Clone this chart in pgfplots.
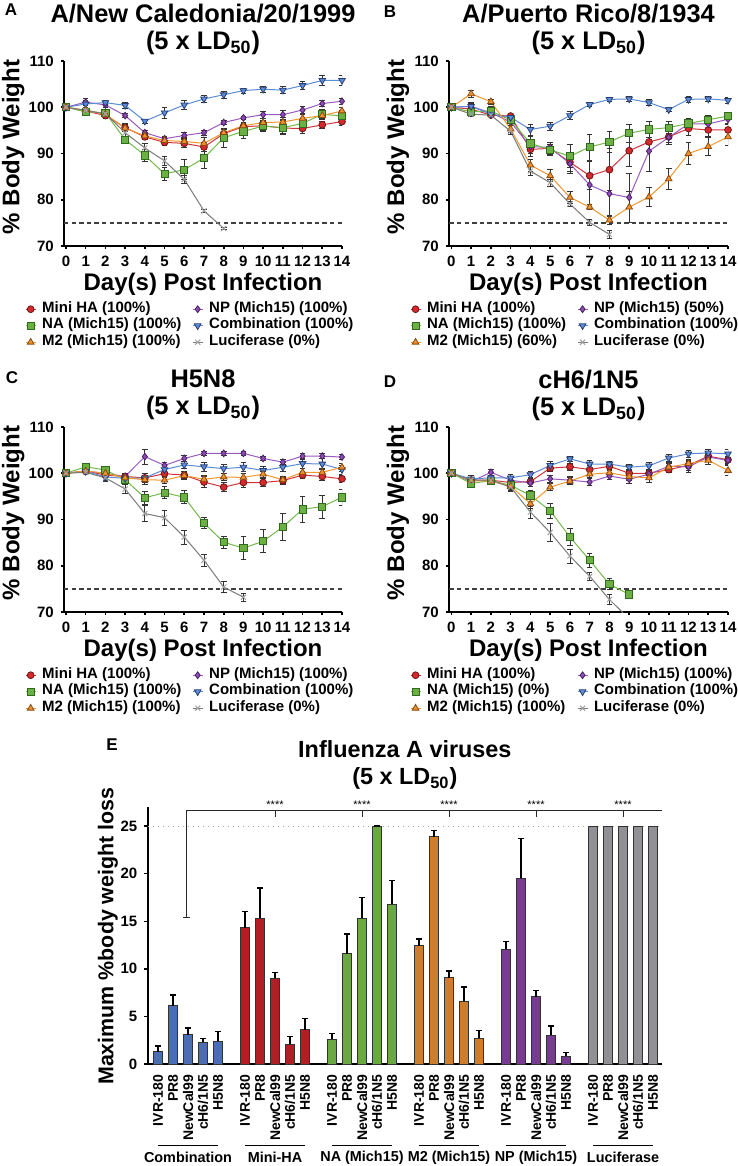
\documentclass[border=0pt]{standalone}
\usepackage{fontspec}
\setmainfont{Liberation Sans}
\usepackage{pgfplots}
\usepackage{pgfplotstable}
\pgfplotsset{compat=1.18}

% line colours (fill / edge / line)
\definecolor{haF}{HTML}{D42A2E}\definecolor{haD}{HTML}{6E1414}\definecolor{haL}{HTML}{D0343A}
\definecolor{naF}{HTML}{6CB043}\definecolor{naD}{HTML}{2F6B1C}\definecolor{naL}{HTML}{74B84A}
\definecolor{m2F}{HTML}{F0932F}\definecolor{m2D}{HTML}{8B4A0E}\definecolor{m2L}{HTML}{F0962E}
\definecolor{npF}{HTML}{8E4DB3}\definecolor{npD}{HTML}{4A1F66}\definecolor{npL}{HTML}{9A5AC0}
\definecolor{coF}{HTML}{5E8DD6}\definecolor{coD}{HTML}{253F78}\definecolor{coL}{HTML}{5B8BD4}
\definecolor{luL}{HTML}{7A7A7A}\definecolor{luM}{HTML}{A0A0A0}
% bar colours
\definecolor{bCo}{HTML}{4A6DB3}\definecolor{bHa}{HTML}{B31E24}\definecolor{bNa}{HTML}{69A842}
\definecolor{bM2}{HTML}{CE7E2B}\definecolor{bNp}{HTML}{773B8F}\definecolor{bLu}{HTML}{909095}

\pgfplotsset{
  eb/.style={error bars/y dir=both, error bars/y explicit,
    error bars/error bar style={black!80, line width=0.4pt},
    error bars/error mark options={rotate=90, mark size=1.4pt, line width=0.4pt, black!80}},
  haS/.style={color=haL, line width=0.5pt, mark=*, mark size=1.7pt,
    mark options={fill=haF, draw=haD, line width=0.4pt}, eb},
  npS/.style={color=npL, line width=0.5pt, mark=diamond*, mark size=1.7pt,
    mark options={fill=npF, draw=npD, line width=0.4pt}, eb},
  naS/.style={color=naL, line width=0.5pt, mark=square*, mark size=1.8pt,
    mark options={fill=naF, draw=naD, line width=0.4pt}, eb},
  coS/.style={color=coL, line width=0.5pt, mark=triangle*, mark size=1.9pt,
    mark options={rotate=180, fill=coF, draw=coD, line width=0.4pt}, eb},
  m2S/.style={color=m2L, line width=0.5pt, mark=triangle*, mark size=1.9pt,
    mark options={fill=m2F, draw=m2D, line width=0.4pt}, eb},
  luS/.style={color=luL, line width=0.5pt, mark=x, mark size=1.8pt,
    mark options={draw=luM, line width=0.5pt}, eb},
  lineax/.style={
    scale only axis, width=139pt, height=92.5pt, anchor=south west,
    xmin=-0.1, xmax=14, ymin=70, ymax=110,
    xtick={0,...,14}, ytick={70,80,...,110},
    axis lines*=left, axis line style={line width=1.3pt},
    tick align=outside, major tick length=1.6pt, tick style={line width=0.8pt, black},
    tick label style={font=\bfseries\fontsize{7.5}{8}\selectfont},
    /pgf/number format/assume math mode=true,
    xlabel={Day(s) Post Infection}, ylabel={\% Body Weight},
    label style={font=\bfseries\fontsize{12}{13}\selectfont},
    xlabel style={at={(axis description cs:0.5,-0.205)}, anchor=center},
    ylabel style={at={(axis description cs:-0.183,0.535)}, anchor=center},
    title style={at={(axis description cs:0.5,1.108)}, anchor=center, align=center,
      font=\bfseries\fontsize{12.7}{13.5}\selectfont},
    legend columns=2, legend cell align=left,
    legend style={at={(axis description cs:-0.141,-0.295)}, anchor=north west,
      draw=none, fill=none, inner sep=0pt,
      font=\bfseries\fontsize{7.5}{8.25}\selectfont,
      nodes={inner sep=0pt, text height=5.6pt, text depth=2.65pt},
      /tikz/every odd column/.append style={column sep=3pt},
      /tikz/every even column/.append style={column sep=0pt}},
    legend image code/.code={\draw[mark repeat=2,mark phase=2,##1]
      plot coordinates {(0pt,0pt)(2.5pt,0pt)(5pt,0pt)};},
  },
}

\newcommand{\sixplots}[1]{%
  \addplot[forget plot, black!75, line width=0.7pt, dash pattern=on 2.2pt off 1.6pt]
    coordinates {(-0.1,75) (14,75)};
  \addplot[haS] table[x=d,y=ha,y error=haE]{#1};
  \addplot[npS] table[x=d,y=np,y error=npE]{#1};
  \addplot[naS] table[x=d,y=na,y error=naE]{#1};
  \addplot[coS] table[x=d,y=co,y error=coE]{#1};
  \addplot[m2S] table[x=d,y=m2,y error=m2E]{#1};
  \addplot[luS] table[x=d,y=lu,y error=luE]{#1};
}
\newcommand{\lb}[1]{\makebox[75pt][l]{#1}}

\pgfplotstableread{
d ha haE np npE na naE co coE m2 m2E lu luE
0 100 0 100 0 100 0 100 0 100 0 100 0
1 99.2 0.6 101.1 0.8 99.0 0.6 100.7 0.8 99.4 0.6 99.3 0.5
2 98.2 0.6 100.5 0.6 98.8 0.7 101.0 0.5 98.5 0.5 98.6 0.6
3 95.6 0.9 98.2 0.5 93.0 0.7 100.4 0.6 95.5 0.8 94.5 0.7
4 93.6 0.6 94.5 0.5 89.6 1.3 97.0 0.4 93.8 0.6 91.2 1.0
5 92.4 0.7 93.2 0.5 85.6 1.5 98.8 1.2 92.8 0.6 88.4 1.0
6 92.2 0.8 93.9 0.7 86.5 2.2 100.5 1.0 92.6 0.8 84.4 0.8
7 91.4 1.0 94.5 0.5 89.0 2.2 101.8 0.7 92.2 1.2 77.6 0.3
8 94.3 1.0 96.7 0.4 93.4 2.0 102.7 0.7 94.5 0.8 73.8 0.3
9 95.8 0.8 97.7 0.4 94.8 1.5 103.6 0.5 96.0 0.8 nan nan
10 96.0 1.0 98.4 0.8 95.9 1.2 103.9 0.6 96.7 0.8 nan nan
11 95.5 1.2 98.4 1.0 95.6 1.5 103.7 0.8 96.8 1.0 nan nan
12 95.4 1.0 99.4 0.8 96.5 1.0 104.7 0.8 97.6 0.8 nan nan
13 96.2 0.7 100.8 0.6 98.5 1.0 105.8 1.0 98.2 0.8 nan nan
14 96.9 0.8 101.3 0.6 98.1 1.2 105.8 1.0 99.2 0.8 nan nan
}\tabA

\pgfplotstableread{
d ha haE np npE na naE co coE m2 m2E lu luE
0 100 0 100 0 100 0 100 0 100 0 100 0
1 99.6 0.8 100.2 0.6 99.0 0.8 100.2 0.8 102.9 0.8 98.5 0.5
2 98.3 0.5 98.8 0.6 99.2 1.0 98.5 0.5 101.2 0.6 98.3 0.4
3 98.1 0.5 96.8 0.8 97.2 0.7 97.8 0.6 95.3 0.8 94.8 0.6
4 90.9 1.5 91.5 1.5 92.2 1.5 95.2 1.2 87.5 1.3 86.2 1.0
5 91.1 1.3 91.3 1.2 90.8 1.2 95.9 0.8 85.2 1.3 83.7 0.8
6 88.1 2.0 87.8 2.0 89.4 2.5 98.2 0.8 80.5 1.2 79.1 0.6
7 85.2 3.0 83.2 5.0 91.4 2.8 100.6 0.5 78.4 0.5 75.1 0.6
8 86.5 4.5 81.3 5.0 92.5 2.3 101.7 0.5 75.6 1.0 72.5 0.8
9 90.6 3.3 80.5 5.3 94.4 2.0 101.8 0.5 78.4 3.3 nan nan
10 92.5 2.0 90.5 4.3 95.2 1.8 101.0 0.7 80.6 2.0 nan nan
11 93.6 1.3 93.5 1.5 95.6 1.3 99.5 0.5 84.5 2.3 nan nan
12 95.4 1.5 96.4 1.0 96.5 1.0 101.7 0.6 90.0 2.3 nan nan
13 95.1 1.5 96.4 1.2 97.3 1.0 101.8 0.6 91.5 2.0 nan nan
14 95.1 1.5 97.4 1.0 98.1 0.8 101.5 0.6 93.6 1.8 nan nan
}\tabB

\pgfplotstableread{
d ha haE np npE na naE co coE m2 m2E lu luE
0 100 0 100 0 100 0 100 0 100 0 100 0
1 100.5 0.6 100.4 0.5 101.4 0.6 100.4 0.6 100.5 0.6 100.2 0.5
2 99.6 0.6 100.0 0.6 100.7 0.5 99.2 0.8 100.0 0.6 99.0 0.8
3 99.3 0.6 99.3 0.6 98.6 0.8 98.9 0.6 99.0 0.6 96.6 1.0
4 99.0 1.0 103.6 1.6 94.7 1.4 99.0 1.0 98.6 1.0 91.3 1.8
5 99.9 0.8 101.7 0.6 95.8 1.3 100.8 1.0 98.5 0.8 90.4 1.6
6 99.6 0.8 103.2 0.7 94.8 1.4 101.8 0.8 99.5 0.8 86.2 1.5
7 98.1 1.2 104.3 0.5 89.2 1.2 101.4 1.0 98.7 0.8 81.2 1.3
8 97.0 1.0 104.3 0.4 85.1 1.3 101.0 1.0 99.2 0.8 75.4 1.2
9 98.0 1.0 104.3 0.4 83.8 2.5 101.3 1.0 99.1 0.8 73.2 0.8
10 98.0 0.8 103.2 0.5 85.3 2.5 100.6 0.8 99.8 0.6 nan nan
11 98.4 0.8 102.4 0.5 88.4 3.0 101.3 1.0 98.6 0.8 nan nan
12 99.6 0.8 103.7 0.5 92.2 2.8 102.1 1.0 100.2 0.8 nan nan
13 99.3 0.8 103.7 0.5 92.8 2.5 102.0 1.2 100.2 0.8 nan nan
14 98.8 0.7 103.5 0.5 94.8 1.8 100.8 1.0 101.3 0.8 nan nan
}\tabC

\pgfplotstableread{
d ha haE np npE na naE co coE m2 m2E lu luE
0 100 0 100 0 100 0 100 0 100 0 100 0
1 98.5 0.6 98.2 0.6 97.8 0.6 98.8 0.8 98.4 0.6 98.5 0.6
2 98.5 0.6 100.2 0.6 98.4 0.6 99.0 0.6 98.3 0.6 98.5 0.5
3 98.0 1.0 98.5 0.8 97.4 0.8 99.0 0.8 97.2 0.8 97.0 1.0
4 98.2 1.0 97.9 0.8 95.2 1.2 99.7 0.8 93.4 1.0 91.6 1.3
5 101.1 0.8 98.8 0.8 91.9 1.6 101.7 0.8 97.0 0.8 87.2 2.0
6 101.4 0.8 98.5 0.8 86.2 1.8 103.1 0.6 98.3 0.8 82.1 1.5
7 100.8 1.0 98.1 0.8 81.2 1.5 102.0 0.8 99.8 0.8 77.7 0.8
8 101.5 0.8 99.4 0.8 76.0 1.2 102.0 0.6 100.1 0.8 72.7 1.0
9 100.0 0.8 98.7 0.8 73.8 0.7 101.3 0.6 99.3 0.8 68.5 0
10 100.0 0.8 99.8 0.8 nan nan 101.6 0.8 99.0 1.0 nan nan
11 100.8 0.6 101.5 0.8 nan nan 103.3 0.8 101.3 0.8 nan nan
12 101.7 1.0 101.4 1.2 nan nan 104.2 0.8 102.1 1.0 nan nan
13 103.7 0.8 103.5 0.8 nan nan 104.4 0.8 102.8 0.8 nan nan
14 102.9 0.8 102.8 0.8 nan nan 104.2 1.0 100.6 1.0 nan nan
}\tabD

\begin{document}
\begin{tikzpicture}
\path[use as bounding box] (0,0) rectangle (369pt,-583pt);

\begin{axis}[lineax, at={(32pt,-123pt)},
  title={A/New Caledonia/20/1999\\(5 x LD\textsubscript{50})}]
\sixplots{\tabA}
\legend{\lb{Mini HA (100\%)}, NP (Mich15) (100\%), \lb{NA (Mich15) (100\%)}, Combination (100\%), \lb{M2 (Mich15) (100\%)}, Luciferase (0\%)}
\end{axis}

\begin{axis}[lineax, at={(224.5pt,-123pt)}, xmin=-0.12, width=139.5pt,
  title={A/Puerto Rico/8/1934\\(5 x LD\textsubscript{50})}]
\sixplots{\tabB}
\legend{\lb{Mini HA (100\%)}, NP (Mich15) (50\%), \lb{NA (Mich15) (100\%)}, Combination (100\%), \lb{M2 (Mich15) (60\%)}, Luciferase (0\%)}
\end{axis}

\begin{axis}[lineax, at={(32pt,-306pt)},
  title={H5N8\\(5 x LD\textsubscript{50})}]
\sixplots{\tabC}
\legend{\lb{Mini HA (100\%)}, NP (Mich15) (100\%), \lb{NA (Mich15) (100\%)}, Combination (100\%), \lb{M2 (Mich15) (100\%)}, Luciferase (0\%)}
\end{axis}

\begin{axis}[lineax, at={(224.5pt,-306pt)}, xmin=-0.12, width=139.5pt,
  title={cH6/1N5\\(5 x LD\textsubscript{50})}]
\sixplots{\tabD}
\legend{\lb{Mini HA (100\%)}, NP (Mich15) (100\%), \lb{NA (Mich15) (0\%)}, Combination (100\%), \lb{M2 (Mich15) (100\%)}, Luciferase (0\%)}
\end{axis}

% panel E
\begin{axis}[at={(74pt,-532pt)}, anchor=south west,
  scale only axis, width=256.85pt, height=128.65pt,
  xmin=-0.667, xmax=33.58, ymin=0, ymax=27.03,
  axis lines*=left, axis line style={line width=0.85pt},
  ytick={0,5,...,25}, tick align=outside, major tick length=1.8pt,
  tick style={line width=0.7pt, black},
  x tick style={draw=none},
  xtick={0,1,2,3,4,5.8,6.8,7.8,8.8,9.8,11.6,12.6,13.6,14.6,15.6,17.4,18.4,19.4,20.4,21.4,23.2,24.2,25.2,26.2,27.2,29,30,31,32,33},
  xticklabels={IVR-180,PR8,NewCal99,cH6/1N5,H5N8,IVR-180,PR8,NewCal99,cH6/1N5,H5N8,IVR-180,PR8,NewCal99,cH6/1N5,H5N8,IVR-180,PR8,NewCal99,cH6/1N5,H5N8,IVR-180,PR8,NewCal99,cH6/1N5,H5N8,IVR-180,PR8,NewCal99,cH6/1N5,H5N8},
  xticklabel style={rotate=90, anchor=east, font=\bfseries\fontsize{7}{7}\selectfont},
  yticklabel style={font=\bfseries\fontsize{7.5}{8}\selectfont},
  /pgf/number format/assume math mode=true,
  ylabel={Maximum \%body weight loss},
  ylabel style={at={(axis description cs:-0.078,0.497)}, anchor=center,
    font=\bfseries\fontsize{10.7}{11}\selectfont},
  title={Influenza A viruses\\(5 x LD\textsubscript{50})},
  title style={at={(axis description cs:0.5,1.115)}, anchor=center, align=center,
    font=\bfseries\fontsize{11.7}{13.5}\selectfont},
  clip=false,
  error bars/y dir=plus, error bars/y explicit,
  error bars/error bar style={black, line width=0.7pt},
  error bars/error mark options={rotate=90, mark size=1.3pt, line width=0.7pt, black},
  barst/.style={ybar, bar width=0.62, bar shift=0pt, draw=black!80, line width=0.5pt},
]
\addplot[forget plot, black!35, dotted, line width=0.5pt] coordinates {(-0.667,25) (33.58,25)};
\addplot[barst, fill=bCo] coordinates {(0,1.3)+-(0,0.6) (1,6.1)+-(0,1.15) (2,3.1)+-(0,0.7) (3,2.3)+-(0,0.4) (4,2.4)+-(0,1.0)};
\addplot[barst, fill=bHa] coordinates {(5.8,14.3)+-(0,1.75) (6.8,15.3)+-(0,3.2) (7.8,9.0)+-(0,0.63) (8.8,2.1)+-(0,0.77) (9.8,3.6)+-(0,1.2)};
\addplot[barst, fill=bNa] coordinates {(11.6,2.6)+-(0,0.63) (12.6,11.6)+-(0,2.05) (13.6,15.3)+-(0,2.2) (14.6,25)+-(0,0) (15.6,16.8)+-(0,2.45)};
\addplot[barst, fill=bM2] coordinates {(17.4,12.45)+-(0,0.7) (18.4,23.9)+-(0,0.6) (19.4,9.05)+-(0,0.72) (20.4,6.6)+-(0,1.5) (21.4,2.7)+-(0,0.84)};
\addplot[barst, fill=bNp] coordinates {(23.2,12.05)+-(0,0.85) (24.2,19.5)+-(0,4.2) (25.2,7.07)+-(0,0.63) (26.2,3.0)+-(0,1.0) (27.2,0.8)+-(0,0.4)};
\addplot[barst, fill=bLu, error bars/y dir=none] coordinates {(29,25) (30,25) (31,25) (32,25) (33,25)};

% significance bracket
\draw[black!85, line width=0.5pt] (axis cs:1.9,15.37) -- (axis cs:1.9,26.65) -- (axis cs:33.58,26.65);
\draw[black!85, line width=0.5pt] (axis cs:1.68,15.37) -- (axis cs:2.12,15.37);
\pgfplotsinvokeforeach{7.8,13.6,19.4,25.2,31}{
  \draw[black!85, line width=0.5pt] (axis cs:#1,26.65) -- (axis cs:#1,25.9);
  \node[anchor=base, inner sep=0pt, font=\fontsize{5.5}{6}\selectfont] at (axis cs:#1,26.85) {****};
}
% group labels
\pgfplotsinvokeforeach{0,5.8,11.6,17.4,23.2,29}{
  \draw[black, line width=0.5pt] (axis cs:#1,-8.61) -- (axis cs:#1+4,-8.61);
}
\node[font=\bfseries\fontsize{7.2}{8}\selectfont] at (axis cs:2,-9.8) {Combination};
\node[font=\bfseries\fontsize{7.2}{8}\selectfont] at (axis cs:7.8,-9.8) {Mini-HA};
\node[font=\bfseries\fontsize{7.2}{8}\selectfont] at (axis cs:13.6,-9.8) {NA (Mich15)};
\node[font=\bfseries\fontsize{7.2}{8}\selectfont] at (axis cs:19.4,-9.8) {M2 (Mich15)};
\node[font=\bfseries\fontsize{7.2}{8}\selectfont] at (axis cs:25.2,-9.8) {NP (Mich15)};
\node[font=\bfseries\fontsize{7.2}{8}\selectfont] at (axis cs:31,-9.8) {Luciferase};
\end{axis}

% panel letters
\node[font=\bfseries\fontsize{8.5}{9}\selectfont] at (5.5pt,-5pt) {A};
\node[font=\bfseries\fontsize{8.5}{9}\selectfont] at (195pt,-6pt) {B};
\node[font=\bfseries\fontsize{8.5}{9}\selectfont] at (6pt,-189pt) {C};
\node[font=\bfseries\fontsize{8.5}{9}\selectfont] at (195pt,-191pt) {D};
\node[font=\bfseries\fontsize{8.5}{9}\selectfont] at (56pt,-372.5pt) {E};
\end{tikzpicture}
\end{document}
